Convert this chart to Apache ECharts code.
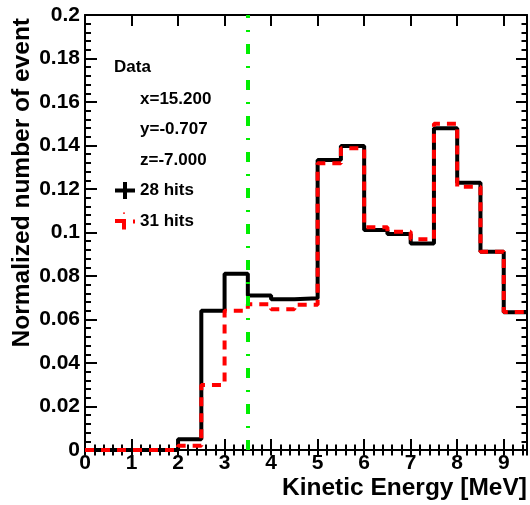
<!DOCTYPE html>
<html>
<head>
<meta charset="utf-8">
<script src="https://cdn.jsdelivr.net/npm/echarts@6/dist/echarts.min.js"></script>
<style>
  html, body { margin: 0; padding: 0; background: #fff; }
  #main { width: 530px; height: 505px; }
</style>
</head>
<body>
<div id="main"></div>
<script>
// histogram bin edges in MeV (0.5 MeV bins)
const binEdges = [0, 0.5, 1, 1.5, 2, 2.5, 3, 3.5, 4, 4.5, 5, 5.5, 6, 6.5, 7, 7.5, 8, 8.5, 9, 9.5];
// normalized content of each bin
const hits28 = [0, 0, 0, 0, 0.005, 0.064, 0.081, 0.071, 0.0693, 0.0698, 0.1333, 0.1398,
                0.1011, 0.0993, 0.095, 0.1479, 0.1229, 0.0912, 0.0633];
const hits31 = [0, 0, 0, 0, 0.002, 0.0299, 0.064, 0.067, 0.0647, 0.0668, 0.1318, 0.1387,
                0.1024, 0.1004, 0.0969, 0.150, 0.121, 0.0912, 0.0635];
const seriesNames = ['28 hits', '31 hits'];
const legendHeader = 'Data';
const legendInfo = ['x=15.200', 'y=-0.707', 'z=-7.000'];
const cutEnergy = 3.5;
const xMin = 0, xMax = 9.5, yMin = 0, yMax = 0.2;

const FONT = 'Liberation Sans';

// step histogram: one point per left edge plus the closing right edge
function histData(vals) {
  const d = vals.map((v, i) => [binEdges[i], v]);
  d.push([binEdges[vals.length], vals[vals.length - 1]]);
  return d;
}

const chart = echarts.init(document.getElementById('main'));

const frameLine = { show: true, onZero: false, lineStyle: { color: '#000', width: 2 } };
const noLabel = { show: false };

function xAx(pos, major) {
  return {
    type: 'value', min: xMin, max: xMax, interval: major ? 1 : 0.2, position: pos,
    axisLine: major ? frameLine : { show: false },
    axisTick: { show: true, inside: true, length: major ? 11 : 5.5, lineStyle: { color: '#000', width: 2 } },
    axisLabel: noLabel,
    splitLine: { show: false }
  };
}

const option = {
  animation: false,
  backgroundColor: '#fff',
  grid: { left: 85, right: 2, top: 15, bottom: 55, containLabel: false },
  xAxis: [
    Object.assign(xAx('bottom', true), {
      axisLabel: { show: true, showMaxLabel: false, color: '#000', fontFamily: FONT, fontWeight: 'bold', fontSize: 21, margin: 3 },
      name: 'Kinetic Energy [MeV]',
      nameLocation: 'end',
      nameGap: 0,
      nameTextStyle: { color: '#000', fontFamily: FONT, fontWeight: 'bold', fontSize: 24.5, align: 'right', verticalAlign: 'top', padding: [26, 0, 0, 0] }
    }),
    xAx('bottom', false),
    xAx('top', true),
    xAx('top', false)
  ],
  yAxis: [
    {
      type: 'value', min: yMin, max: yMax, interval: 0.02, position: 'left',
      axisLine: frameLine,
      axisTick: { show: true, inside: true, length: 12, lineStyle: { color: '#000', width: 2 } },
      minorTick: { show: true, splitNumber: 5, length: 6, lineStyle: { color: '#000', width: 2 } },
      axisLabel: { color: '#000', fontFamily: FONT, fontWeight: 'bold', fontSize: 21, margin: 5 },
      splitLine: { show: false },
      name: 'Normalized number of event',
      nameLocation: 'end',
      nameRotate: 90,
      nameGap: -3,
      nameTextStyle: { color: '#000', fontFamily: FONT, fontWeight: 'bold', fontSize: 24.5, align: 'right', verticalAlign: 'bottom', padding: [0, 0, 50, 0] }
    },
    {
      type: 'value', min: yMin, max: yMax, interval: 0.02, position: 'right',
      axisLine: frameLine,
      axisTick: { show: true, inside: true, length: 11, lineStyle: { color: '#000', width: 2 } },
      minorTick: { show: true, splitNumber: 5, length: 5.5, lineStyle: { color: '#000', width: 2 } },
      axisLabel: noLabel,
      splitLine: { show: false }
    }
  ],
  legend: {
    orient: 'vertical',
    left: 115,
    top: 182,
    padding: 0,
    itemGap: 13.5,
    itemWidth: 20,
    itemHeight: 17,
    textStyle: { color: '#000', fontFamily: FONT, fontWeight: 'bold', fontSize: 17 },
    data: [
      { name: seriesNames[0], icon: 'path://M8,0H12V6.5H20V10.5H12V17H8V10.5H0V6.5H8Z', itemStyle: { color: '#000', borderWidth: 0 } },
      { name: seriesNames[1], icon: 'path://M0,6.5H11V10.5H0Z M7,10.5H11V17H7Z M8,0H10V1.2H8Z M18,7H20V11H18Z', itemStyle: { color: '#ff0000', borderWidth: 0 } }
    ]
  },
  graphic: [
    { type: 'text', left: 114, top: 59, style: { text: legendHeader, fill: '#000', font: 'bold 17px "Liberation Sans"' } },
    { type: 'text', left: 140, top: 91, style: { text: legendInfo[0], fill: '#000', font: 'bold 17px "Liberation Sans"' } },
    { type: 'text', left: 140, top: 121, style: { text: legendInfo[1], fill: '#000', font: 'bold 17px "Liberation Sans"' } },
    { type: 'text', left: 140, top: 152, style: { text: legendInfo[2], fill: '#000', font: 'bold 17px "Liberation Sans"' } }
  ],
  series: [
    {
      name: seriesNames[0],
      type: 'line',
      step: 'end',
      clip: false,
      symbol: 'none',
      color: '#000',
      lineStyle: { color: '#000', width: 4 },
      data: histData(hits28)
    },
    {
      name: seriesNames[1],
      type: 'line',
      step: 'end',
      clip: false,
      symbol: 'none',
      color: '#ff0000',
      lineStyle: { color: '#ff0000', width: 4, type: [9, 7] },
      data: histData(hits31),
      markLine: {
        silent: true,
        symbol: ['none', 'none'],
        label: { show: false },
        lineStyle: { color: '#00ee00', width: 4, type: [10, 12, 2, 12] },
        data: [{ xAxis: cutEnergy }]
      }
    }
  ]
};

chart.setOption(option);
</script>
</body>
</html>
